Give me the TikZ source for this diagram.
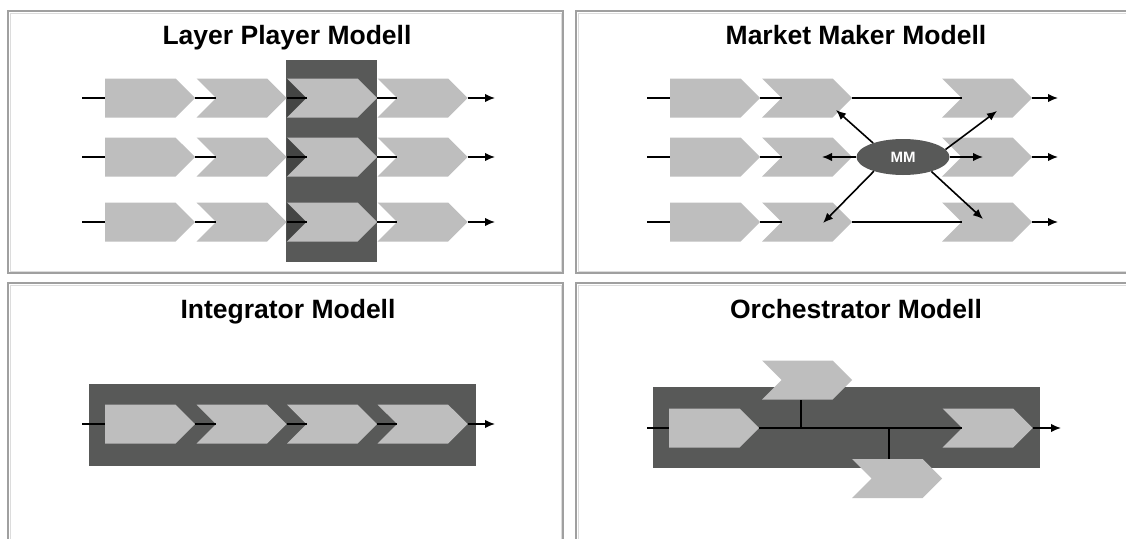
\documentclass[tikz,border=0pt]{standalone}
\usepackage{fontspec}
\setmainfont{Liberation Sans}
\usetikzlibrary{shapes.symbols,shapes.geometric,arrows.meta}
\definecolor{stagegray}{HTML}{BEBEBE}
\definecolor{layerdark}{HTML}{585958}
\definecolor{notchdark}{HTML}{444544}
\definecolor{framegray}{HTML}{A0A0A0}
\definecolor{frameshade}{HTML}{DCDCDC}
\tikzset{
  stage/.style={signal, signal to=east, signal from=west, fill=stagegray,
    minimum width=90pt, minimum height=39pt, inner sep=0pt, outer sep=0pt},
  firststage/.style={stage, signal from=nowhere, anchor=west},
  flow/.style={line width=1.6pt, draw=black},
  flowarrow/.style={flow, -{Latex[length=10pt,width=8.5pt]}},
  panel/.style={draw=framegray, line width=2pt},
  panelshade/.style={draw=frameshade, line width=1pt},
  heading/.style={font=\bfseries\fontsize{26.5}{30}\selectfont, anchor=base, text=black},
  layer/.style={fill=layerdark},
  maker/.style={ellipse, fill=layerdark, minimum width=93pt, minimum height=36pt,
    inner sep=0pt, text=white, font=\bfseries\fontsize{15}{15}\selectfont},
}
\begin{document}
\begin{tikzpicture}[x=1pt,y=-1pt]
\useasboundingbox (0,0) rectangle (1126,538);
\clip (0,0) rectangle (1126,538);
\fill[white] (0,0) rectangle (1126,538);

% panel frames; the right and lower panels run off the page
\draw[panelshade] (10,13) rectangle (561,271);
\draw[panel] (8,11) rectangle (563,273);
\draw[panelshade] (1140,13) -- (578,13) -- (578,271) -- (1140,271);
\draw[panel] (1140,11) -- (576,11) -- (576,273) -- (1140,273);
\draw[panelshade] (10,550) -- (10,285) -- (561,285) -- (561,550);
\draw[panel] (8,550) -- (8,283) -- (563,283) -- (563,550);
\draw[panelshade] (1140,285) -- (578,285) -- (578,550);
\draw[panel] (1140,283) -- (576,283) -- (576,550);

% headings
\node[heading] (t-layer) at (287,44) {Layer Player Modell};
\node[heading] (t-market) at (856,44) {Market Maker Modell};
\node[heading] (t-integ) at (288,318) {Integrator Modell};
\node[heading] (t-orch) at (856,318) {Orchestrator Modell};

% ---- Layer Player: one stage across all chains
\fill[layer] (286,60) rectangle (377,262);
\foreach \r/\y in {1/98,2/157,3/222}{
  \node[firststage] (lp\r-a) at (105,\y) {};
  \node[stage] (lp\r-b) at (241.5,\y) {};
  \fill[notchdark] (286.5,\y-19.5) -- (306,\y) -- (286.5,\y+19.5) -- cycle;
  \node[stage] (lp\r-c) at (332,\y) {};
  \node[stage] (lp\r-d) at (422.5,\y) {};
  \coordinate (lp\r-s) at (82,\y);
  \coordinate (lp\r-e) at (495,\y);
  \draw[flow] (lp\r-s) -- (lp\r-a) (lp\r-a) -- (lp\r-b)
              (lp\r-b) -- (lp\r-c) (lp\r-c) -- (lp\r-d);
  \draw[flowarrow] (lp\r-d) -- (lp\r-e);
}

% ---- Market Maker: a broker between the chains
\foreach \r/\y in {1/98,2/157,3/222}{
  \node[firststage] (mm\r-a) at (670,\y) {};
  \node[stage] (mm\r-b) at (807,\y) {};
  \node[stage] (mm\r-c) at (987,\y) {};
  \coordinate (mm\r-s) at (647,\y);
  \coordinate (mm\r-e) at (1058,\y);
  \draw[flow] (mm\r-s) -- (mm\r-a) (mm\r-a) -- (mm\r-b);
  \draw[flowarrow] (mm\r-c) -- (mm\r-e);
}
\draw[flow] (mm1-b) -- (mm1-c);
\draw[flow] (mm3-b) -- (mm3-c);
\node[maker] (mm) at (903,157) {MM};
\coordinate (mm-ul) at (836,110);
\coordinate (mm-l) at (822,157);
\coordinate (mm-ll) at (823,223);
\coordinate (mm-ur) at (997,111);
\coordinate (mm-r) at (983,157);
\coordinate (mm-lr) at (983,219);
\draw[flowarrow] (mm.155) -- (mm-ul);
\draw[flowarrow] (mm.west) -- (mm-l);
\draw[flowarrow] (mm.206) -- (mm-ll);
\draw[flowarrow] (mm.10) -- (mm-ur);
\draw[flowarrow] (mm.east) -- (mm-r);
\draw[flowarrow] (mm.-27) -- (mm-lr);

% ---- Integrator: the whole chain in one hand
\fill[layer] (89,384) rectangle (476,466);
\node[firststage] (in-a) at (105,424) {};
\node[stage] (in-b) at (241.5,424) {};
\node[stage] (in-c) at (332,424) {};
\node[stage] (in-d) at (422.5,424) {};
\coordinate (in-s) at (82,424);
\coordinate (in-e) at (495,424);
\draw[flow] (in-s) -- (in-a) (in-a) -- (in-b) (in-b) -- (in-c) (in-c) -- (in-d);
\draw[flowarrow] (in-d) -- (in-e);

% ---- Orchestrator: outside stages hooked into the chain
\fill[layer] (653,387) rectangle (1040,468);
\node[firststage] (or-a) at (669,428) {};
\node[stage] (or-up) at (807,380) {};
\node[stage] (or-down) at (897,478.5) {};
\node[stage] (or-end) at (987.5,428) {};
\coordinate (or-s) at (647,428);
\coordinate (or-e) at (1061,428);
\coordinate (or-j1) at (801,428);
\coordinate (or-j2) at (889,428);
\draw[flow] (or-s) -- (or-a) (or-a) -- (or-end);
\draw[flow] (or-j1) -- (or-j1 |- or-up.south);
\draw[flow] (or-j2) -- (or-j2 |- or-down.north);
\draw[flowarrow] (or-end) -- (or-e);
\end{tikzpicture}
\end{document}
